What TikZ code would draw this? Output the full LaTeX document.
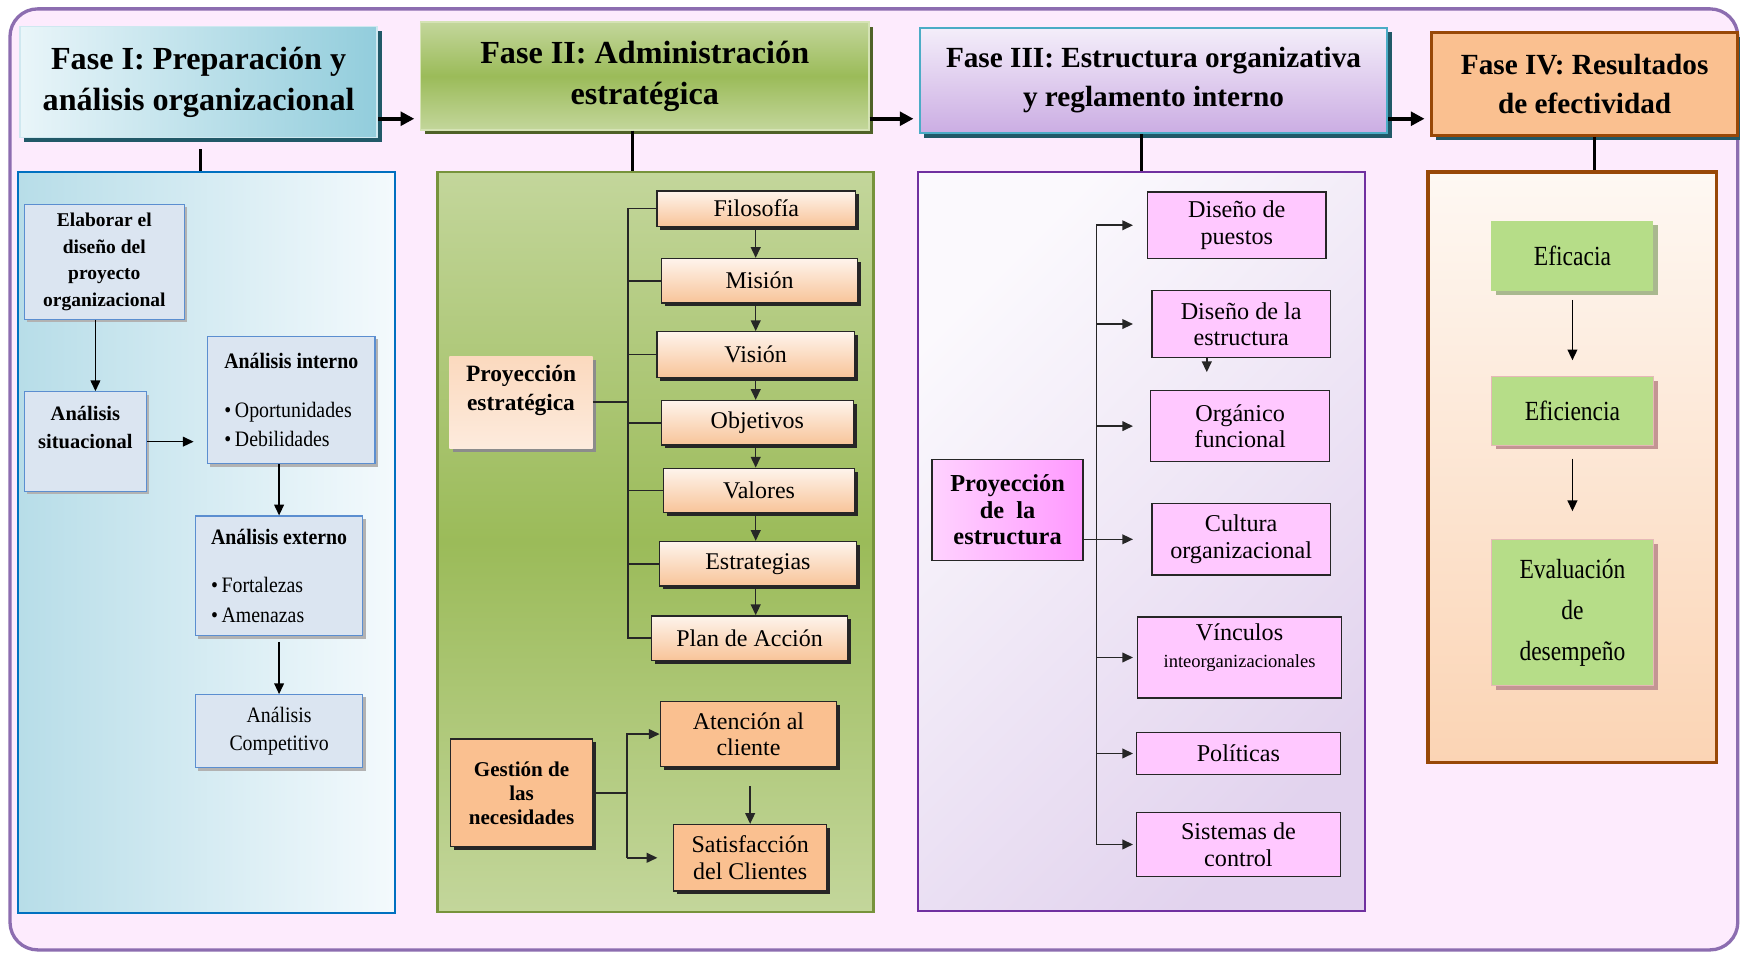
\documentclass[tikz,border=0pt]{standalone}
\usepackage{fontspec}
\setmainfont{Liberation Serif}
\newfontfamily\narrowserif[FakeStretch=0.9]{Liberation Serif}
\newfontfamily\condserif[FakeStretch=0.85]{Liberation Serif}
\usetikzlibrary{arrows.meta,positioning,calc,shadows}

\definecolor{bgpink}{HTML}{FDEBFD}
\definecolor{framepurple}{HTML}{8C6DB0}
\definecolor{shadowteal}{HTML}{215968}
\definecolor{shadowolive}{HTML}{4F6228}
\definecolor{darkline}{HTML}{262626}
\definecolor{brown}{HTML}{984807}
\definecolor{peach}{HTML}{FAC090}
\definecolor{boxgreen}{HTML}{B6DD88}
\definecolor{fonedraw}{HTML}{CFE8F0}
\definecolor{foneleft}{HTML}{E9F5F9}
\definecolor{foneright}{HTML}{92CDDC}
\definecolor{glight}{HTML}{C3D69B}
\definecolor{gdark}{HTML}{9BBB59}
\definecolor{ftwodraw}{HTML}{D5E3B5}
\definecolor{fthreedraw}{HTML}{4BACC6}
\definecolor{fthreetop}{HTML}{F4EEFA}
\definecolor{fthreebot}{HTML}{CBADE3}
\definecolor{ponedraw}{HTML}{0070C0}
\definecolor{poneleft}{HTML}{B7DDE8}
\definecolor{poneright}{HTML}{F4FAFD}
\definecolor{ptwodraw}{HTML}{77933C}
\definecolor{pthreedraw}{HTML}{7030A0}
\definecolor{pthreetop}{HTML}{FBF9FD}
\definecolor{pthreebot}{HTML}{E2D3EE}
\definecolor{pfourtop}{HTML}{FEF8F3}
\definecolor{pfourbot}{HTML}{FBD4B4}
\definecolor{boxblue}{HTML}{5B8ED0}
\definecolor{boxfill}{HTML}{DBE5F1}
\definecolor{peachtop}{HTML}{FEF4EC}
\definecolor{peachbot}{HTML}{F8C499}
\definecolor{proytop}{HTML}{FBD9BE}
\definecolor{proybot}{HTML}{FDEBDD}
\definecolor{boxpink}{HTML}{FFC8FF}
\definecolor{pinklight}{HTML}{FFD2FF}
\definecolor{pinkdeep}{HTML}{FF99FF}
\definecolor{gshadow}{HTML}{A9B88F}
\definecolor{rshadow}{HTML}{C39593}
\definecolor{rdraw}{HTML}{E6B8B7}

\begin{document}
\begin{tikzpicture}[x=0.02cm,y=-0.02cm,>={Triangle[length=5.5pt,width=5pt]},
  every node/.style={align=center,inner sep=2pt,text=black},
  hdr/.style={font=\bfseries\fontsize{16.5}{21}\selectfont,line width=0.8pt,
    drop shadow={shadow xshift=0.08cm,shadow yshift=-0.08cm,fill=#1,opacity=1}},
  panel/.style={inner sep=0pt,line width=1.3pt},
  bluebox/.style={draw=boxblue,fill=boxfill,line width=0.6pt,
    drop shadow={shadow xshift=0.05cm,shadow yshift=-0.05cm,fill=black!30,opacity=1}},
  peachbox/.style={draw=darkline,line width=0.7pt,top color=peachtop,bottom color=peachbot,
    font=\fontsize{12.3}{13.6}\selectfont,
    drop shadow={shadow xshift=0.06cm,shadow yshift=-0.06cm,fill=darkline,opacity=1}},
  orangebox/.style={draw=darkline,line width=0.7pt,fill=peach,
    drop shadow={shadow xshift=0.06cm,shadow yshift=-0.06cm,fill=darkline,opacity=1}},
  pinkbox/.style={draw=darkline,line width=0.7pt,fill=boxpink,font=\fontsize{12.4}{13.6}\selectfont},
  greenbox/.style={fill=boxgreen,minimum width=2.92cm,font=\condserif\fontsize{14.2}{21}\selectfont,
    drop shadow={shadow xshift=0.08cm,shadow yshift=-0.08cm,fill=#1,opacity=1}},
  link/.style={draw=darkline,line width=0.8pt},
  bigarrow/.style={line width=2pt,-{Triangle[length=7pt,width=7pt]},shorten >=0.1cm}]
\useasboundingbox (0,0) rectangle (1568,858);
\fill[white] (0,0) rectangle (1568,858);
\draw[framepurple,line width=1.7pt,fill=bgpink,rounded corners=0.5cm] (9,8) rectangle (1566,856);

% phase headers
\node[hdr=shadowteal,draw=fonedraw,left color=foneleft,right color=foneright,
  minimum width=6.44cm,minimum height=2cm] (f1) at (179,74) {Fase I: Preparación y\\análisis organizacional};
\node[hdr=shadowolive,draw=ftwodraw,top color=glight,bottom color=glight,middle color=gdark,
  minimum width=8.08cm,minimum height=1.94cm] (f2) at (581,68.5) {Fase II: Administración\\estratégica};
\node[hdr=shadowteal,draw=fthreedraw,line width=1pt,top color=fthreetop,bottom color=fthreebot,
  font=\bfseries\fontsize{15}{20}\selectfont,minimum width=8.42cm,minimum height=1.9cm] (f3) at (1039.5,72.5) {Fase III: Estructura organizativa\\y reglamento interno};
\node[hdr=shadowteal,draw=brown,line width=1.5pt,fill=peach,
  font=\bfseries\fontsize{15}{20}\selectfont,minimum width=5.52cm,minimum height=1.86cm] (f4) at (1428,75.5) {Fase IV: Resultados\\de efectividad};

\coordinate (ah) at (0,107);
\draw[bigarrow] (f1.east |- ah) -- (f2.west |- ah);
\draw[bigarrow] (f2.east |- ah) -- (f3.west |- ah);
\draw[bigarrow] (f3.east |- ah) -- (f4.west |- ah);

% panels
\node[panel,draw=ponedraw,left color=poneleft,right color=poneright,
  minimum width=6.8cm,minimum height=13.36cm] (p1) at (186,489) {};
\node[panel,draw=ptwodraw,top color=glight,bottom color=glight,middle color=gdark,
  minimum width=7.86cm,minimum height=13.34cm] (p2) at (590.5,488.5) {};
\node[panel,draw=pthreedraw,top color=pthreetop,bottom color=pthreebot,shading angle=45,
  minimum width=8.06cm,minimum height=13.32cm] (p3) at (1028.5,488) {};
\node[panel,draw=brown,line width=1.8pt,top color=pfourtop,bottom color=pfourbot,
  minimum width=5.2cm,minimum height=10.64cm] (p4) at (1417,421) {};

\coordinate (l1) at ($(f1.south)+(2,10)$);
\coordinate (l2) at ($(f2.south)+(-11,0)$);
\coordinate (l4) at ($(f4.south)+(9,0)$);
\draw[line width=1.6pt] (l1) -- (l1 |- p1.north);
\draw[line width=1.6pt] (l2) -- (l2 |- p2.north);
\draw[line width=1.6pt] (f3.south -| p3.north) -- (p3.north);
\draw[line width=1.6pt] (l4) -- (l4 |- p4.north);

% phase I
\node[bluebox,font=\bfseries\fontsize{10}{13.6}\selectfont,minimum width=2.88cm,minimum height=2.08cm] (elab) at (94,236)
  {Elaborar el\\diseño del\\proyecto\\organizacional};
\node[bluebox,font=\bfseries\fontsize{10.5}{14.7}\selectfont,minimum width=2.2cm,minimum height=1.8cm] (sit) at (77,398)
  {Análisis\\situacional\\\mbox{}};
\node[bluebox,align=left,font=\narrowserif\fontsize{11.3}{15.3}\selectfont,minimum width=3.02cm,minimum height=2.3cm] (int) at (262.5,360.5)
  {{\bfseries Análisis interno}\\[9.7pt]\textbullet\,Oportunidades\\\textbullet\,Debilidades};
\node[bluebox,align=left,font=\narrowserif\fontsize{11.3}{15.3}\selectfont,minimum width=3.02cm,minimum height=2.16cm] (ext) at (251.5,519)
  {{\bfseries Análisis externo}\\[9.7pt]\textbullet\,Fortalezas\\\textbullet\,Amenazas};
\node[bluebox,font=\narrowserif\fontsize{11.3}{14.7}\selectfont,minimum width=3.02cm,minimum height=1.32cm] (comp) at (251.5,659)
  {Análisis\\Competitivo};
\coordinate (e1) at ($(elab.south)+(-8,0)$);
\draw[->,line width=0.7pt] (e1) -- (e1 |- sit.north);
\draw[->,line width=0.7pt,shorten >=0.24cm] (sit.east) -- (sit.east -| int.west);
\draw[->,line width=0.7pt] (int.south -| ext.north) -- (ext.north);
\draw[->,line width=0.7pt,shorten <=0.1cm] (ext.south) -- (comp.north);

% phase II
\node[peachbox,minimum width=3.58cm,minimum height=0.64cm] (filo) at (681.5,188) {Filosofía};
\node[peachbox,minimum width=3.54cm,minimum height=0.8cm] (mis) at (684.5,253) {Misión};
\node[peachbox,minimum width=3.56cm,minimum height=0.82cm] (vis) at (681,319.5) {Visión};
\node[peachbox,minimum width=3.46cm,minimum height=0.8cm] (obj) at (682.5,381) {Objetivos};
\node[peachbox,minimum width=3.44cm,minimum height=0.8cm] (val) at (684,442) {Valores};
\node[peachbox,minimum width=3.56cm,minimum height=0.8cm] (est) at (683,508) {Estrategias};
\node[peachbox,minimum width=3.54cm,minimum height=0.8cm] (plan) at (675.5,575) {Plan de Acción};
\node[top color=proytop,bottom color=proybot,font=\bfseries\fontsize{12}{14.7}\selectfont,
  drop shadow={shadow xshift=0.06cm,shadow yshift=-0.06cm,fill=black!45,opacity=1},
  minimum width=2.58cm,minimum height=1.66cm] (proy) at (469.5,362.5) {Proyección\\estratégica\\\mbox{}};
\coordinate (busx) at (566,0);
\coordinate (chx) at (681,0);
\draw[link] (filo.west) -- (filo.west -| busx) -- (plan.west -| busx) -- (plan.west);
\foreach \b in {mis,vis,obj,val,est} \draw[link] (\b.west) -- (\b.west -| busx);
\draw[link] (proy.east) -- (proy.east -| busx);
\foreach \a/\b in {filo/mis,mis/vis,vis/obj,obj/val,val/est,est/plan}
  \draw[link,->] (\a.south -| chx) -- (\b.north -| chx);

\node[orangebox,font=\bfseries\fontsize{10.8}{12.3}\selectfont,minimum width=2.56cm,minimum height=1.94cm] (gest) at (470,714.5)
  {Gestión de\\las\\necesidades};
\node[orangebox,font=\fontsize{12.3}{13.6}\selectfont,minimum width=3.18cm,minimum height=1.18cm] (aten) at (674.5,661.5)
  {Atención al\\cliente};
\node[orangebox,font=\fontsize{12.3}{13.6}\selectfont,minimum width=2.76cm,minimum height=1.2cm] (sat) at (676,773)
  {Satisfacción\\del Clientes};
\coordinate (gb) at (565,0);
\draw[link] (gest.east) -- (gest.east -| gb);
\draw[link,->] (sat.west -| gb) -- (aten.west -| gb) -- (aten.west);
\draw[link,->,shorten >=0.28cm] (sat.west -| gb) -- (sat.west);
\draw[link,->,shorten <=0.34cm] (aten.south -| sat.north) -- (sat.north);

% phase III
\node[pinkbox,minimum width=3.22cm,minimum height=1.2cm] (dp) at (1114.5,203) {Diseño de\\puestos};
\node[pinkbox,minimum width=3.22cm,minimum height=1.2cm] (de) at (1118.5,292) {Diseño de la\\estructura};
\node[pinkbox,minimum width=3.22cm,minimum height=1.28cm] (of) at (1117.5,384) {Orgánico\\funcional};
\node[pinkbox,minimum width=3.22cm,minimum height=1.28cm] (co) at (1118.5,486) {Cultura\\organizacional};
\node[pinkbox,minimum width=3.68cm,minimum height=1.46cm] (vi) at (1117,592.5)
  {Vínculos\\{\fontsize{9.5}{11}\selectfont inteorganizacionales}\\[-1.4pt]\mbox{}};
\node[pinkbox,minimum width=3.68cm,minimum height=0.76cm] (po) at (1116,679) {Políticas};
\node[pinkbox,minimum width=3.68cm,minimum height=1.16cm] (sc) at (1116,761) {Sistemas de\\control};
\node[pinkbox,left color=pinklight,right color=pinkdeep,font=\bfseries\fontsize{12.5}{13.6}\selectfont,
  minimum width=2.72cm,minimum height=1.82cm] (pe) at (908,459.5) {Proyección\\de\ \ la\\estructura};
\coordinate (bus3) at (988,0);
\coordinate (tip3) at (1021,0);
\draw[link] (dp.west -| bus3) -- (sc.west -| bus3);
\foreach \b in {dp,de,of,co,vi,po,sc} \draw[link,->] (\b.west -| bus3) -- (\b.west -| tip3);
\draw[link] (pe.east |- co.west) -- (co.west -| bus3);
\coordinate (d1) at ($(de.south)+(-31,0)$);
\draw[link,->,shorten >=0.32cm] (d1) -- (d1 |- of.north);

% phase IV
\node[greenbox=gshadow,minimum height=1.26cm] (efa) at (1417,230.5) {Eficacia};
\node[greenbox=rshadow,draw=rdraw,minimum height=1.24cm] (efi) at (1417,370) {Eficiencia};
\node[greenbox=rshadow,draw=rdraw,minimum height=2.64cm] (ev) at (1417,552) {Evaluación\\de\\desempeño};
\draw[->,line width=0.8pt,shorten <=0.16cm,shorten >=0.28cm] (efa) -- (efi);
\draw[->,line width=0.8pt,shorten <=0.24cm,shorten >=0.5cm] (efi) -- (ev);
\end{tikzpicture}
\end{document}
